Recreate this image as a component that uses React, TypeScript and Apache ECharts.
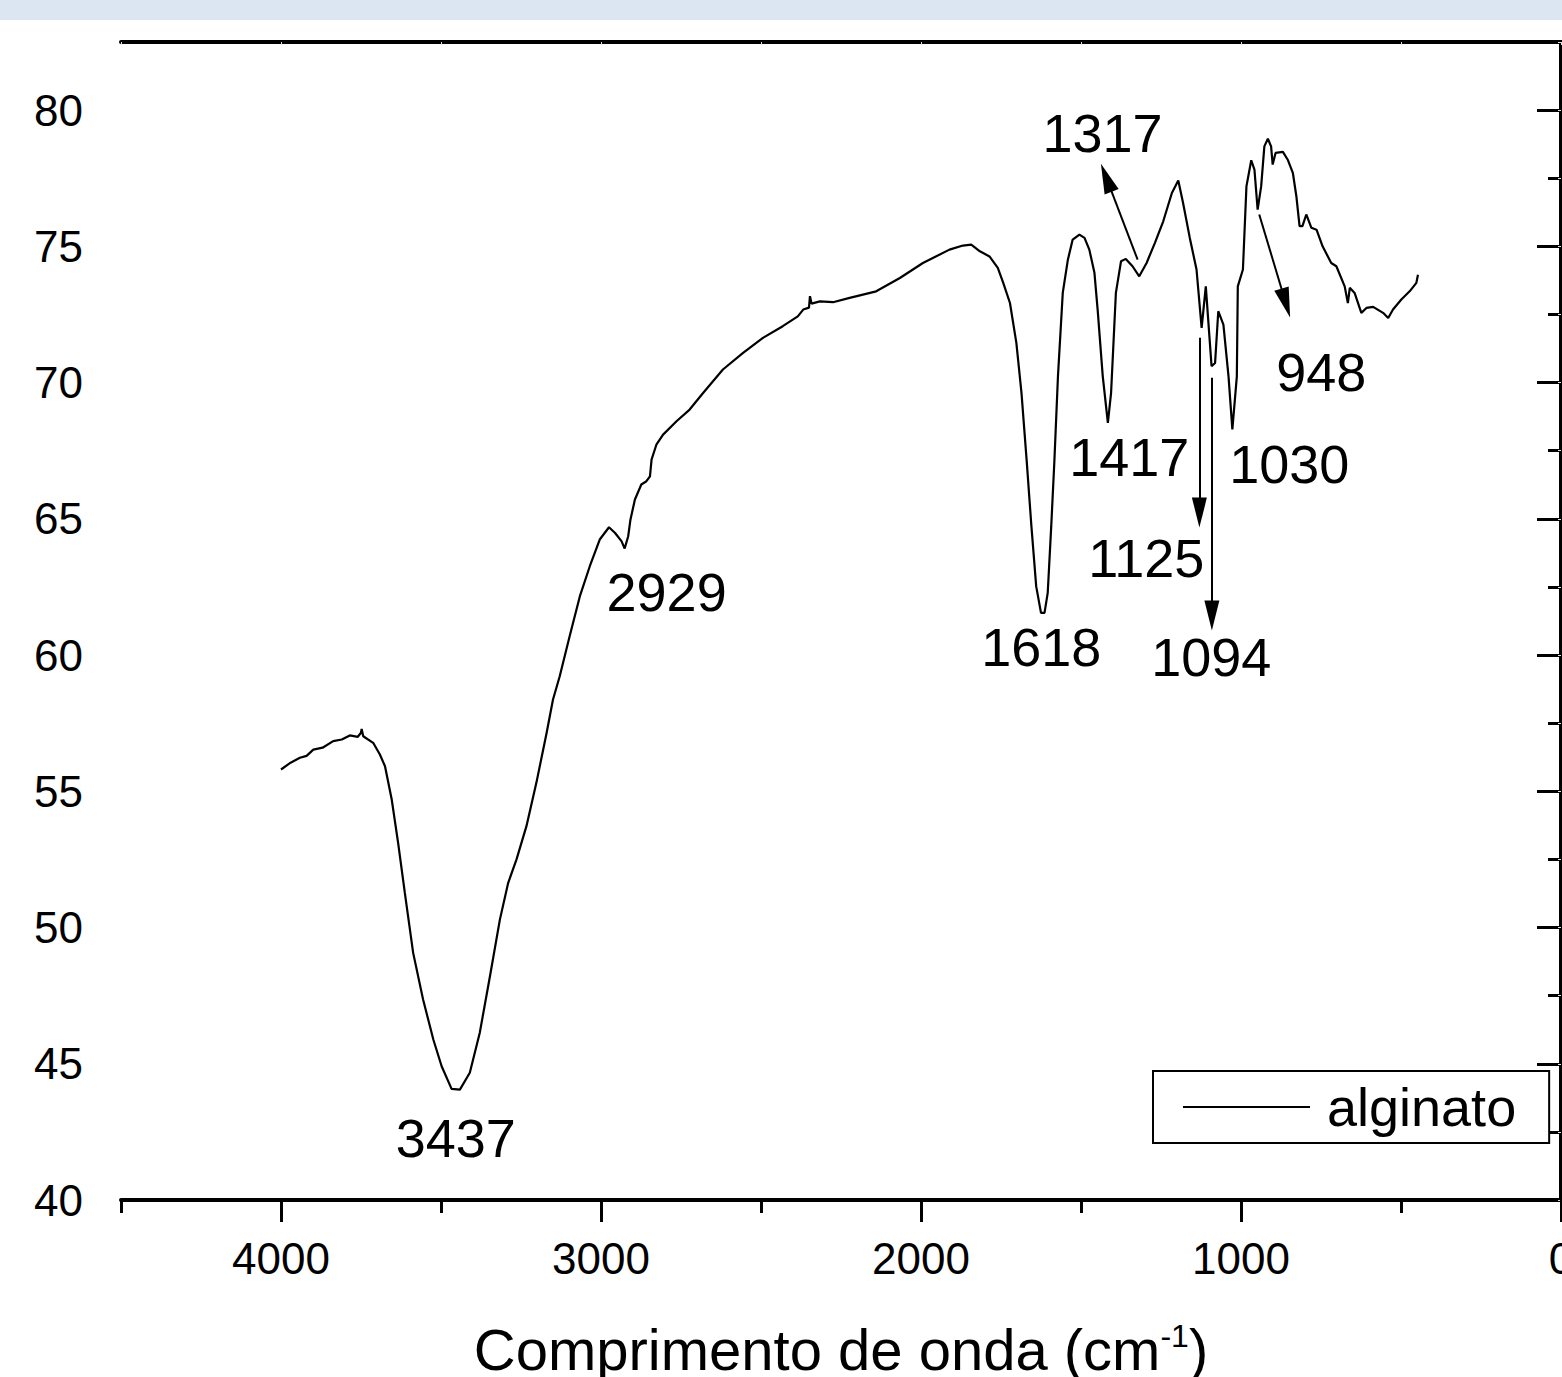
import React, { useEffect, useRef } from "react";
import * as echarts from "echarts";

const FONT = "'Liberation Sans', Arial, Helvetica, sans-serif";

// Wavenumber (cm-1) and transmittance values
const wavenumbers = [
  4000, 3970, 3941, 3920, 3899, 3870, 3837, 3810, 3785, 3760, 3750, 3748, 3743, 3712, 3691, 3675,
  3654, 3634, 3613, 3587, 3556, 3524, 3498, 3467, 3441, 3410, 3379, 3347, 3316, 3290, 3264, 3233,
  3202, 3170, 3150, 3129, 3098, 3066, 3035, 3004, 2975, 2956, 2936, 2926, 2915, 2908, 2894, 2874,
  2858, 2847, 2842, 2827, 2806, 2764, 2723, 2681, 2619, 2556, 2494, 2432, 2385, 2368, 2350, 2347,
  2342, 2316, 2275, 2223, 2140, 2066, 1994, 1911, 1869, 1843, 1816, 1786, 1760, 1743, 1722, 1702,
  1686, 1670, 1655, 1640, 1625, 1614, 1604, 1593, 1583, 1572, 1557, 1541, 1526, 1505, 1489, 1474,
  1458, 1448, 1432, 1416, 1406, 1391, 1375, 1360, 1339, 1318, 1295, 1269, 1243, 1216, 1196, 1181,
  1160, 1139, 1123, 1110, 1092, 1081, 1071, 1055, 1039, 1027, 1013, 1010, 994, 983, 968, 958,
  948, 937, 927, 916, 906, 901, 892, 869, 854, 838, 827, 817, 808, 796, 780, 764,
  745, 718, 702, 676, 666, 660, 645, 624, 608, 587, 556, 540, 525, 499, 473, 452, 447,
];
const transmittance = [
  55.8, 56.05, 56.23, 56.3, 56.53, 56.6, 56.84, 56.9, 57.05, 57.0, 57.15, 57.29, 57.02, 56.78, 56.35, 55.92,
  54.7, 53.11, 51.27, 49.07, 47.36, 45.89, 44.91, 44.08, 44.05, 44.67, 46.13, 48.21, 50.29, 51.64, 52.5, 53.72,
  55.31, 57.14, 58.37, 59.22, 60.69, 62.16, 63.26, 64.24, 64.69, 64.48, 64.18, 63.91, 64.36, 64.97, 65.71, 66.26,
  66.38, 66.56, 67.17, 67.72, 68.09, 68.58, 69.01, 69.62, 70.48, 71.09, 71.64, 72.07, 72.43, 72.68, 72.75, 73.17,
  72.9, 72.98, 72.95, 73.11, 73.35, 73.84, 74.39, 74.88, 75.03, 75.06, 74.82, 74.63, 74.21, 73.66, 72.92, 71.46,
  69.62, 67.17, 64.73, 62.52, 61.55, 61.55, 62.28, 64.73, 67.17, 70.23, 73.29, 74.51, 75.25, 75.43, 75.31, 74.88,
  74.03, 72.68, 70.23, 68.52, 69.62, 73.29, 74.45, 74.54, 74.27, 73.9, 74.39, 75.13, 75.92, 76.96, 77.42, 76.59,
  75.31, 74.15, 72.01, 73.53, 70.6, 70.72, 72.62, 72.13, 70.23, 68.28, 70.23, 73.53, 74.15, 77.2, 78.16, 77.82,
  76.35, 77.2, 78.67, 78.95, 78.67, 78.0, 78.43, 78.47, 78.18, 77.7, 76.84, 75.74, 75.74, 76.17, 75.68, 75.61,
  75.0, 74.39, 74.27, 73.53, 72.92, 73.48, 73.29, 72.56, 72.74, 72.78, 72.56, 72.37, 72.68, 73.05, 73.35, 73.66, 73.96,
];

// Peak annotations: label text and the data point where the label sits
const peakLabels = ["3437", "2929", "1618", "1417", "1125", "1094", "1030", "948", "1317"];
const peakLabelX = [3454, 2795, 1624, 1349, 1296, 1093, 849, 749, 1433];
const peakLabelY = [42.29, 62.33, 60.31, 67.28, 63.58, 59.94, 67.03, 70.4, 79.17];

// Arrows: start and end points (data coordinates)
const arrowFromX = [1323, 943, 1130, 1091];
const arrowFromY = [74.51, 76.17, 71.65, 70.18];
const arrowToX = [1421, 860, 1130, 1091];
const arrowToY = [77.52, 72.92, 65.23, 61.45];

const xMajorTicks = [0, 1000, 2000, 3000, 4000];
const yMajorTicks = [40, 45, 50, 55, 60, 65, 70, 75, 80];

export default function App() {
  const ref = useRef<HTMLDivElement>(null);

  useEffect(() => {
    document.body.style.margin = "0";
    if (!ref.current) return;
    const chart = echarts.init(ref.current, null, { renderer: "svg" });

    const lineData = wavenumbers.map((w, i) => [w, transmittance[i]]);
    const labelData = peakLabels.map((n, i) => ({ name: n, value: [peakLabelX[i], peakLabelY[i]] }));
    const arrowData = arrowFromX.map((x, i) => [
      { coord: [x, arrowFromY[i]] },
      { coord: [arrowToX[i], arrowToY[i]] },
    ]);

    const black = "#000";
    const plain = (v: number) => String(v);
    chart.setOption({
      animation: false,
      backgroundColor: "#fff",
      graphic: [
        {
          type: "rect",
          left: 0,
          top: 0,
          z: -10,
          shape: { width: 1562, height: 20 },
          style: { fill: "#dce6f2" },
        },
      ],
      grid: { left: 121, top: 42, right: 1, bottom: 177, containLabel: false, outerBoundsMode: "none" },
      legend: {
        data: ["alginato"],
        left: 1153,
        top: 1071,
        orient: "horizontal",
        backgroundColor: "#fff",
        borderColor: black,
        borderWidth: 2,
        borderRadius: 0,
        padding: [9, 33, 9, 30],
        icon: "rect",
        itemWidth: 127,
        itemHeight: 2,
        itemStyle: { color: black, borderWidth: 0 },
        textStyle: { fontFamily: FONT, fontSize: 54, color: black, lineHeight: 54, padding: [0, 0, 0, 12] },
      },
      xAxis: [
        {
          type: "value",
          min: 0,
          max: 4500,
          inverse: true,
          position: "bottom",
          interval: 1000,
          axisLine: { show: true, lineStyle: { color: black, width: 4 } },
          axisTick: { show: true, inside: false, length: 22, customValues: xMajorTicks, lineStyle: { color: black, width: 3 } },
          axisLabel: { show: true, customValues: xMajorTicks, formatter: plain, margin: 36, fontFamily: FONT, fontSize: 44, color: black },
          splitLine: { show: false },
          name: "{m|Comprimento de onda (cm}{s|-1}{m|)}",
          nameLocation: "middle",
          nameGap: 120,
          nameTextStyle: {
            rich: {
              m: { fontFamily: FONT, fontSize: 58, color: black, lineHeight: 58, verticalAlign: "top" },
              s: { fontFamily: FONT, fontSize: 32, color: black, lineHeight: 32, verticalAlign: "top" },
            },
          },
        },
        {
          type: "value",
          min: 0,
          max: 4500,
          inverse: true,
          position: "bottom",
          interval: 500,
          axisLine: { show: false },
          axisTick: { show: true, inside: false, length: 13, lineStyle: { color: black, width: 3 } },
          axisLabel: { show: false },
          splitLine: { show: false },
        },
        {
          type: "value",
          min: 0,
          max: 4500,
          inverse: true,
          position: "top",
          interval: 500,
          axisLine: { show: true, lineStyle: { color: black, width: 4 } },
          axisTick: { show: true, inside: true, length: 3, lineStyle: { color: "#ddd", width: 1 } },
          axisLabel: { show: false },
          splitLine: { show: false },
        },
      ],
      yAxis: [
        {
          type: "value",
          min: 40,
          max: 82.5,
          interval: 5,
          position: "left",
          axisLine: { show: true, lineStyle: { color: black, width: 4 } },
          axisTick: { show: true, inside: false, length: 24, customValues: yMajorTicks, lineStyle: { color: black, width: 3 } },
          axisLabel: { show: true, customValues: yMajorTicks, formatter: plain, margin: 38, fontFamily: FONT, fontSize: 44, color: black },
          splitLine: { show: false },
        },
        {
          type: "value",
          min: 40,
          max: 82.5,
          interval: 2.5,
          position: "left",
          axisLine: { show: false },
          axisTick: { show: true, inside: false, length: 13, lineStyle: { color: black, width: 3 } },
          axisLabel: { show: false },
          splitLine: { show: false },
        },
        {
          type: "value",
          min: 40,
          max: 82.5,
          interval: 2.5,
          position: "right",
          axisLine: { show: true, lineStyle: { color: black, width: 3 } },
          axisTick: { show: true, inside: true, length: 3, lineStyle: { color: "#ddd", width: 1 } },
          axisLabel: { show: false },
          splitLine: { show: false },
        },
      ],
      series: [
        {
          name: "alginato",
          type: "line",
          xAxisIndex: 0,
          yAxisIndex: 0,
          data: lineData,
          symbol: "none",
          showSymbol: false,
          lineStyle: { color: black, width: 2.2 },
          itemStyle: { color: black },
          markLine: {
            silent: true,
            symbol: ["none", "triangle"],
            symbolSize: [15, 30],
            label: { show: false },
            lineStyle: { color: black, width: 2, type: "solid" },
            emphasis: { disabled: true },
            data: arrowData,
          },
        },
        {
          name: "peaks",
          type: "scatter",
          xAxisIndex: 0,
          yAxisIndex: 0,
          data: labelData,
          symbolSize: 0,
          itemStyle: { color: black },
          label: {
            show: true,
            position: "inside",
            formatter: "{b}",
            fontFamily: FONT,
            fontSize: 54,
            color: black,
            textBorderWidth: 0,
            opacity: 1,
          },
          silent: true,
        },
      ],
    });

    return () => chart.dispose();
  }, []);

  return (
    <div
      ref={ref}
      style={{ width: 1562, height: 1377, position: "absolute", left: 0, top: 0 }}
    />
  );
}
